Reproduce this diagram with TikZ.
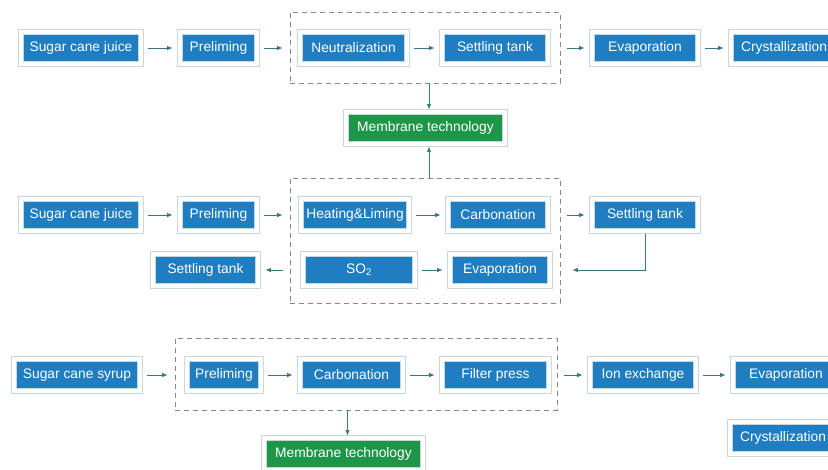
\documentclass[tikz,border=0pt]{standalone}
\usepackage{fontspec}
\setmainfont{Liberation Sans}
\usetikzlibrary{arrows.meta,calc}
\definecolor{procblue}{RGB}{31,125,194}
\definecolor{membgreen}{RGB}{30,150,72}
\definecolor{rimgray}{RGB}{200,214,222}
\definecolor{flowteal}{RGB}{58,115,130}
\definecolor{grpgray}{RGB}{130,138,144}
\definecolor{memline}{RGB}{52,136,100}
\tikzset{
	procbox/.style={fill=procblue, text=white, draw=rimgray, double=white, double distance=4pt, line width=0.7pt, minimum height=32pt, inner sep=0pt, font=\fontsize{13.8}{15}\selectfont},
	membox/.style={procbox, fill=membgreen},
	grpbox/.style={draw=grpgray, dash pattern=on 5pt off 4pt, line width=0.7pt, inner sep=0pt},
	flow/.style={draw=flowteal, line width=0.9pt, -{Latex[length=5.5pt,width=4.5pt]}, shorten <=7pt, shorten >=7pt},
	memflow/.style={draw=memline, line width=0.9pt, -{Latex[length=5.5pt,width=4.5pt]}, shorten >=2pt}
}

\begin{document}
\begin{tikzpicture}[x=1pt, y=-1pt]
			%%%%% START %%%%%
			\useasboundingbox[fill=white] (0, 0) rectangle (828, 469);
			
			%% first line
			\node[grpbox, minimum width=270, minimum height=71] (grpA) at (425, 47.5) {};
			\node[procbox, minimum width=120] (juiceA) at (81, 48) {Sugar cane juice};
			\node[procbox, minimum width=77] (preA) at (218.5, 48) {Preliming};
			\node[procbox, minimum width=107] (neuA) at (353.5, 48) {Neutralization};
			\node[procbox, minimum width=106] (setA) at (495, 48) {Settling tank};
			\node[procbox, minimum width=106] (evapA) at (645, 48) {Evaporation};
			\node[procbox, minimum width=106] (crysA) at (784, 48) {Crystallization};
			\node[membox, minimum width=159] (memA) at (425.5, 128) {Membrane technology};
			
			\draw[flow] (juiceA) -- (preA);
			\draw[flow] (preA) -- (preA -| grpA.west);
			\draw[flow] (neuA) -- (setA);
			\draw[flow] (setA -| grpA.east) -- (evapA);
			\draw[flow] (evapA) -- (crysA);
			\draw[memflow] ([xshift=4pt]grpA.south) -- ([xshift=4pt]grpA.south |- memA.north);
			
			%% second line
			\node[grpbox, minimum width=270, minimum height=125] (grpB) at (425, 240.5) {};
			\node[procbox, minimum width=120] (juiceB) at (81, 215) {Sugar cane juice};
			\node[procbox, minimum width=77] (preB) at (218.5, 215) {Preliming};
			\node[procbox, minimum width=108] (heatB) at (355, 215) {Heating\&Liming};
			\node[procbox, minimum width=100] (carbB) at (498, 215) {Carbonation};
			\node[procbox, minimum width=106] (setB) at (645, 215) {Settling tank};
			\node[procbox, minimum width=112] (soB) at (359, 270) {SO\textsubscript{2}};
			\node[procbox, minimum width=100] (evapB) at (500, 270) {Evaporation};
			\node[procbox, minimum width=105] (setL) at (205.5, 270) {Settling tank};
			
			\draw[flow] (juiceB) -- (preB);
			\draw[flow] (preB) -- (preB -| grpB.west);
			\draw[flow] (heatB) -- (carbB);
			\draw[flow] (setB -| grpB.east) -- (setB);
			\draw[flow, shorten <=3pt, shorten >=12pt] (setB.south) |- (evapB -| grpB.east);
			\draw[flow] (soB) -- (evapB);
			\draw[flow] (soB -| grpB.west) -- (setL);
			\draw[memflow] ([xshift=4pt]grpB.north) -- ([xshift=4pt]grpB.north |- memA.south);
			
			%% third line
			\node[grpbox, minimum width=382, minimum height=72] (grpC) at (366, 374) {};
			\node[procbox, minimum width=126] (syrupC) at (77, 375) {Sugar cane syrup};
			\node[procbox, minimum width=74] (preC) at (224, 375) {Preliming};
			\node[procbox, minimum width=103] (carbC) at (351.5, 375) {Carbonation};
			\node[procbox, minimum width=107] (filtC) at (495.5, 375) {Filter press};
			\node[procbox, minimum width=106] (ionC) at (643, 375) {Ion exchange};
			\node[procbox, minimum width=106] (evapC) at (786, 375) {Evaporation};
			\node[procbox, minimum width=106] (crysC) at (783, 438) {Crystallization};
			\node[membox, minimum width=159] (memC) at (343.5, 454) {Membrane technology};
			
			\draw[flow] (syrupC) -- (syrupC -| grpC.west);
			\draw[flow] (preC) -- (carbC);
			\draw[flow] (carbC) -- (filtC);
			\draw[flow] (ionC -| grpC.east) -- (ionC);
			\draw[flow] (ionC) -- (evapC);
			\draw[memflow] ([xshift=4pt]memC.north |- grpC.south) -- ([xshift=4pt]memC.north);
			%%%%% END %%%%%
\end{tikzpicture}
\end{document}
